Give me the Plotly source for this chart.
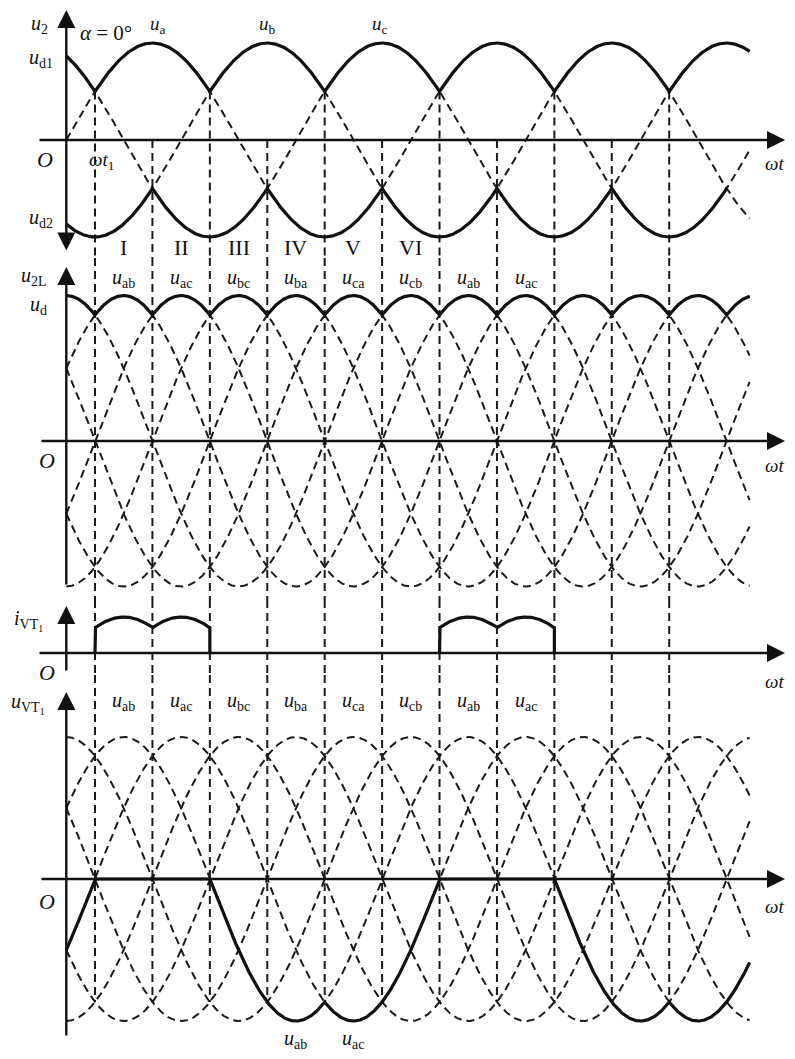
import numpy as np
import plotly.graph_objects as go

W, H = 795, 1059
OFF = 8                           # the page puts the figure 8 px in from the top-left
WF, HF = W - 2 * OFF, H - 2 * OFF # figure size so the page does not scroll

# ---- values (angles in degrees) ----
t_end = 714                     # last angle drawn
ud2_end = 690                   # lower envelope stops here
phase_names = ["a", "b", "c"]
phase_shift = [0, -120, 120]    # u_a, u_b, u_c
line_pairs = [("a", "b"), ("a", "c"), ("b", "c"), ("b", "a"), ("c", "a"), ("c", "b")]
commutation = [30, 90, 150, 210, 270, 330, 390, 450, 510, 570, 630]
top_cross = [30, 150, 270, 390, 510, 630]      # crossings at +0.5 (cathode group)
numerals = ["I", "II", "III", "IV", "V", "VI"]
numeral_pos = [60, 120, 180, 240, 300, 360]
ud_labels = ["ab", "ac", "bc", "ba", "ca", "cb", "ab", "ac"]
ud_label_pos = [60, 120, 180, 240, 300, 360, 420, 480]
phase_label_pos = [96, 210, 328]
vt1_on = [(30, 150), (390, 510)]
i_peak, i_valley = 1.0, 0.7
uvt1_segments = [(0, 30, "ac"), (30, 150, None), (150, 270, "ab"), (270, 390, "ac"),
                 (390, 510, None), (510, 630, "ab"), (630, t_end, "ac")]
uvt1_low_labels = ["ab", "ac"]
uvt1_low_pos = [240, 300]

# ---- layout geometry (pixels of the reference page) ----
X0_PX, PX_DEG = 66.3, 0.957
# panel: (top px, bottom px, axis px, px per unit)
panels = [(OFF, 258, 140, 97), (258, 600, 441, 84), (600, 675, 653, 36), (675, H - OFF, 879, 82)]


def degx(px):
    return (px - X0_PX) / PX_DEG


xr = [degx(OFF), degx(W - OFF)]


def yrange(p):
    top, bot, ax, unit = p
    return [-(bot - ax) / unit, (ax - top) / unit]


def ydata(p, py):
    return (p[2] - py) / p[3]


FONT = "Liberation Serif, Times New Roman, serif"
INK = "#111111"
DASH = "8px,5px"

t = np.arange(0, t_end + 0.25, 0.5)


def phase(name, tt):
    return np.sin(np.radians(tt + phase_shift[phase_names.index(name)]))


def line(pair, tt):
    return phase(pair[0], tt) - phase(pair[1], tt)


def line_by_name(s, tt):
    return line((s[0], s[1]), tt)


fig = go.Figure()


def dashed(x, y, yref):
    fig.add_trace(go.Scatter(x=x, y=y, yaxis=yref, mode="lines",
                             line=dict(color="#1a1a1a", width=2, dash=DASH),
                             hoverinfo="skip", showlegend=False))


def bold(x, y, yref):
    fig.add_trace(go.Scatter(x=x, y=y, yaxis=yref, mode="lines",
                             line=dict(color=INK, width=3.2),
                             hoverinfo="skip", showlegend=False))


def verticals(yref, tops, bottom):
    xs, ys = [], []
    for a, top in zip(commutation, tops):
        xs += [a, a, None]
        ys += [top, bottom, None]
    dashed(xs, ys, yref)


# panel 1: phase voltages
for n in phase_names:
    dashed(t, phase(n, t), "y")
r1 = yrange(panels[0])
verticals("y", [0.5 if a in top_cross else 0 for a in commutation], r1[0])
ph = np.vstack([phase(n, t) for n in phase_names])
bold(t, ph.max(axis=0), "y")
m2 = t <= ud2_end
bold(t[m2], ph.min(axis=0)[m2], "y")

# panel 2: line voltages and ud
for pr in line_pairs:
    dashed(t, line(pr, t), "y2")
r2 = yrange(panels[1])
verticals("y2", [r2[1]] * len(commutation), r2[0])
ln = np.vstack([line(pr, t) for pr in line_pairs])
bold(t, ln.max(axis=0), "y2")

# panel 3: current in VT1
r3 = yrange(panels[2])
verticals("y3", [r3[1]] * len(commutation), r3[0])
ix, iy = [], []
for s, e in vt1_on:
    tt = np.arange(s, e + 0.25, 0.5)
    ud = np.vstack([line(pr, tt) for pr in line_pairs]).max(axis=0)
    cur = i_valley + (i_peak - i_valley) * (ud - 1.5) / (np.sqrt(3) - 1.5)
    ix += [s] + list(tt) + [e, None]
    iy += [0] + list(cur) + [0, None]
bold(ix, iy, "y3")

# panel 4: voltage across VT1
for pr in line_pairs:
    dashed(t, line(pr, t), "y4")
r4 = yrange(panels[3])
verticals("y4", [r4[1]] * len(commutation), -1.5)
vx, vy = [], []
for s, e, w in uvt1_segments:
    tt = np.arange(s, e + 0.25, 0.5)
    vx += list(tt)
    vy += list(np.zeros_like(tt) if w is None else line_by_name(w, tt))
bold(vx, vy, "y4")

# ---- axes drawn as arrows ----
yrefs = ["y", "y2", "y3", "y4"]


def arrow(yref, x0, y0, x1, y1, both=False):
    fig.add_annotation(x=x1, y=y1, ax=x0, ay=y0, xref="x", yref=yref, axref="x", ayref=yref,
                       text="", showarrow=True, arrowhead=2, arrowsize=1.5, arrowwidth=2.4,
                       arrowcolor=INK, arrowside="end+start" if both else "end",
                       startarrowhead=2, startarrowsize=1.5)


x_axis_start = [38, 40, 38, 40]
for i, yref in enumerate(yrefs):
    arrow(yref, degx(x_axis_start[i]), 0, degx(785), 0)
p1, p2, p3, p4 = panels
arrow("y", 0, ydata(p1, 252), 0, ydata(p1, 10), both=True)
arrow("y2", 0, ydata(p2, 586), 0, ydata(p2, 267))
arrow("y3", 0, ydata(p3, 672), 0, ydata(p3, 606))
arrow("y4", 0, ydata(p4, 1037), 0, ydata(p4, 692))


def lab(text, px, py, size=20, xanchor="center"):
    fig.add_annotation(x=(px - OFF) / WF, y=1 - (py - OFF) / HF, xref="paper", yref="paper",
                       text=text, showarrow=False, xanchor=xanchor, yanchor="middle",
                       font=dict(family=FONT, size=size, color=INK))


def dlab(text, x, y, yref, size=20):
    fig.add_annotation(x=x, y=y, xref="x", yref=yref, text=text, showarrow=False,
                       xanchor="center", yanchor="middle",
                       font=dict(family=FONT, size=size, color=INK))


# panel 1 labels
lab("<i>u</i><sub>2</sub>", 40, 24)
lab("<i>u</i><sub>d1</sub>", 41, 58)
lab("<i>α</i> = 0°", 106, 33, size=21)
lab("<i>O</i>", 45, 160, size=22)
lab("<i>ωt</i><sub>1</sub>", 101, 161, size=19)
lab("<i>ωt</i>", 786, 163, size=19, xanchor="right")
lab("<i>u</i><sub>d2</sub>", 41, 219)
for n, a in zip(phase_names, phase_label_pos):
    dlab("<i>u</i><sub>%s</sub>" % n, a, ydata(p1, 25), "y", size=19)
for s, a in zip(numerals, numeral_pos):
    dlab(s, a, ydata(p1, 247), "y", size=22)

# panel 2 labels
lab("<i>u</i><sub>2L</sub>", 34, 276)
lab("<i>u</i><sub>d</sub>", 38, 305)
lab("<i>O</i>", 47, 460, size=22)
lab("<i>ωt</i>", 786, 466, size=19, xanchor="right")
for s, a in zip(ud_labels, ud_label_pos):
    dlab("<i>u</i><sub>%s</sub>" % s, a, ydata(p2, 278), "y2", size=20)

# panel 3 labels
lab("<i>i</i><sub>VT<sub>1</sub></sub>", 28, 620)
lab("<i>O</i>", 47, 672, size=22)
lab("<i>ωt</i>", 786, 681, size=19, xanchor="right")

# panel 4 labels
lab("<i>u</i><sub>VT<sub>1</sub></sub>", 28, 703)
lab("<i>O</i>", 47, 901, size=22)
lab("<i>ωt</i>", 786, 906, size=19, xanchor="right")
for s, a in zip(ud_labels, ud_label_pos):
    dlab("<i>u</i><sub>%s</sub>" % s, a, ydata(p4, 701), "y4", size=20)
for s, a in zip(uvt1_low_labels, uvt1_low_pos):
    dlab("<i>u</i><sub>%s</sub>" % s, a, ydata(p4, 1039), "y4", size=20)

layout = dict(width=WF, height=HF, margin=dict(l=0, r=0, t=0, b=0),
              paper_bgcolor="white", plot_bgcolor="white", showlegend=False,
              hovermode=False,
              xaxis=dict(range=xr, visible=False, domain=[0, 1], anchor="y4", fixedrange=True))
for i, p in enumerate(panels):
    key = "yaxis" if i == 0 else "yaxis%d" % (i + 1)
    layout[key] = dict(range=yrange(p), visible=False, anchor="x", fixedrange=True,
                       domain=[max(0, 1 - (p[1] - OFF) / HF), min(1, 1 - (p[0] - OFF) / HF)])
fig.update_layout(**layout)

fig.write_html("out.html")
